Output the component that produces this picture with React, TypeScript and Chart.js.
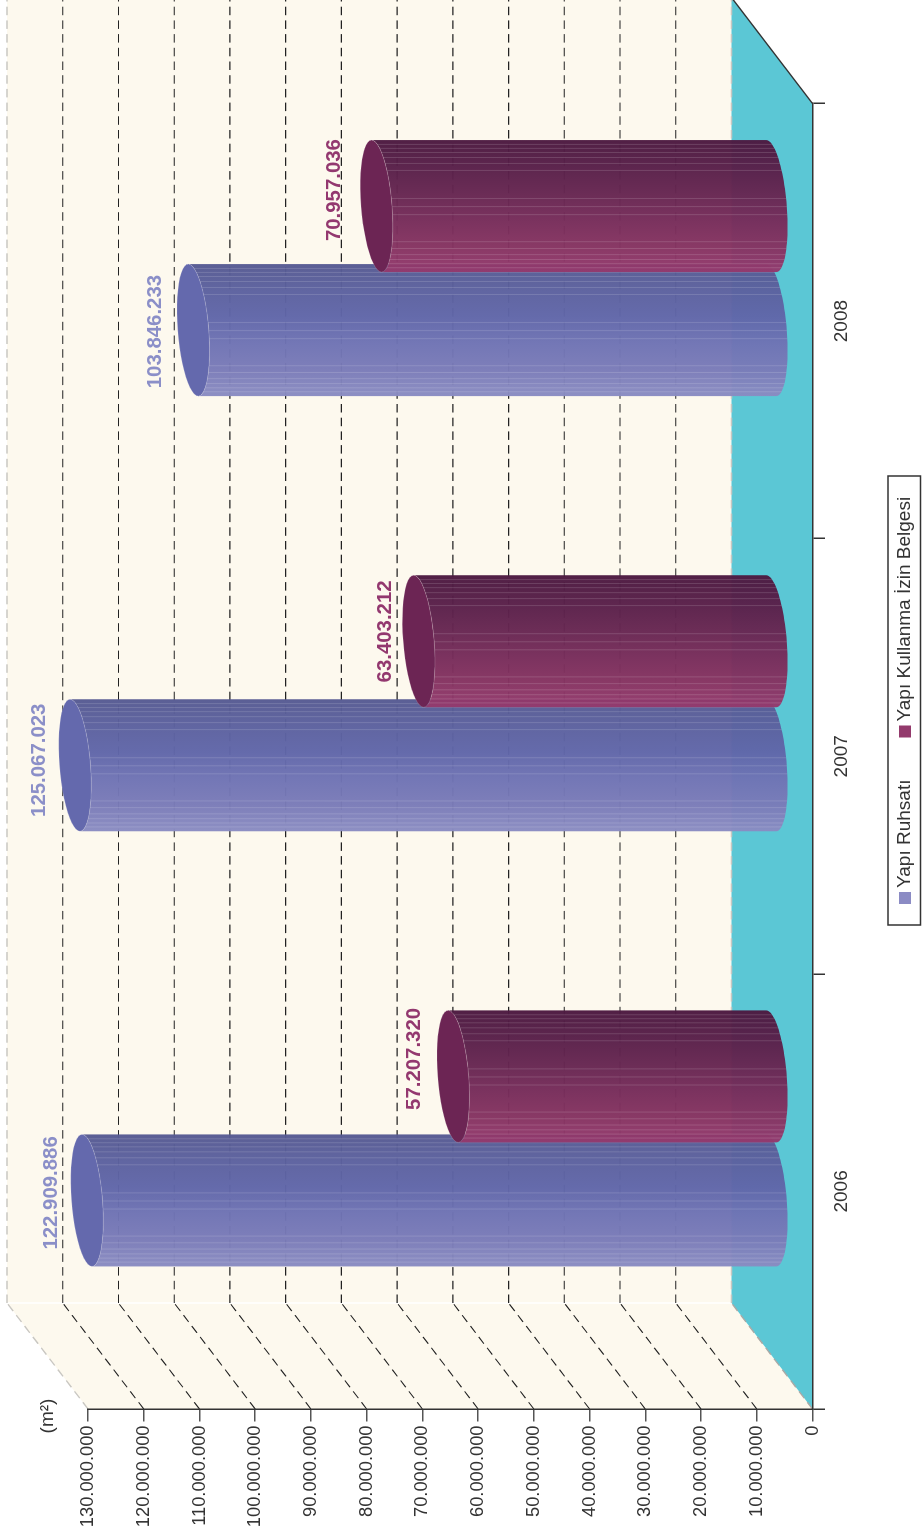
import React, { useEffect, useRef } from "react";
import { Chart, registerables } from "chart.js";

Chart.register(...registerables);

const categories = ["2006", "2007", "2008"];
const seriesNames = ["Yapı Ruhsatı", "Yapı Kullanma İzin Belgesi"];
const ruhsat = [122909886, 125067023, 103846233];
const kullanma = [57207320, 63403212, 70957036];
const unitLabel = "(m²)";

const FONT = '"Liberation Sans", Arial, sans-serif';
const INK = "#333333";
const CREAM = "#fdf9ee";
const FLOOR = "#5bc7d5";
const EDGE = "#c9c7c2";

const DEPTH_U = 106;
const DEPTH_V = -81;

const blueRamp = ["#8a8cc2", "#7a7bb8", "#6f73b4", "#6066a9", "#5c619f", "#565a92"];
const plumRamp = ["#943a6e", "#853361", "#762c5a", "#662651", "#581f49", "#4c1940"];
const ramps = [blueRamp, plumRamp];
const capFill = ["#6469ad", "#6c2554"];
const labelInk = ["#8b8fc8", "#93386f"];
const stripeStops = [0.033, 0.063, 0.095, 0.132, 0.179, 0.23, 0.435, 0.496, 0.557, 0.77, 0.823, 0.868, 0.906, 0.937, 0.967];

const labelShiftU = [
  [7.5, 5, -1.5],
  [17.5, 9.8, 16],
];
const labelShiftV = [
  [-36, -36, -38],
  [-39, -33.6, -42.5],
];

function dashed(ctx: CanvasRenderingContext2D, x1: number, y1: number, x2: number, y2: number, color: string, width: number) {
  ctx.save();
  ctx.strokeStyle = color;
  ctx.lineWidth = width;
  ctx.setLineDash([8.5, 5.2]);
  ctx.beginPath();
  ctx.moveTo(x1, y1);
  ctx.lineTo(x2, y2);
  ctx.stroke();
  ctx.restore();
}

function poly(ctx: CanvasRenderingContext2D, pts: number[][]) {
  ctx.beginPath();
  pts.forEach((p, i) => (i ? ctx.lineTo(p[0], p[1]) : ctx.moveTo(p[0], p[1])));
  ctx.closePath();
}

function drawCylinders(chart: any, si: number) {
  const { ctx } = chart;
  const ramp = ramps[si];
  chart.getDatasetMeta(si).data.forEach((bar: any, i: number) => {
    const cu = bar.x + DEPTH_U / 2;
    const top = bar.y + DEPTH_V / 2;
    const base = bar.base + DEPTH_V / 2;
    const half = bar.width / 2;
    const shear = half * 0.076;
    const bulge = half * 0.235;
    const ell = (cv: number, from: number, to: number) => {
      const out: number[][] = [];
      for (let k = 0; k <= 48; k++) {
        const th = from + ((to - from) * k) / 48;
        out.push([cu + half * Math.cos(th), cv - shear * Math.cos(th) + bulge * Math.sin(th)]);
      }
      return out;
    };
    ctx.save();
    ctx.globalAlpha = 0.97;
    const grad = ctx.createLinearGradient(cu - half, 0, cu + half, 0);
    ramp.forEach((c: string, k: number) => grad.addColorStop(k / (ramp.length - 1), c));
    const body = [...ell(base, 0, Math.PI), ...ell(top, Math.PI, 0)];
    poly(ctx, body);
    ctx.fillStyle = grad;
    ctx.fill();
    ctx.save();
    poly(ctx, body);
    ctx.clip();
    ctx.strokeStyle = "rgba(255,255,255,0.15)";
    ctx.lineWidth = 1;
    stripeStops.forEach((f) => {
      const u = cu - half + 2 * half * f;
      ctx.beginPath();
      ctx.moveTo(u, top - bulge * 2);
      ctx.lineTo(u, base + bulge * 2);
      ctx.stroke();
    });
    ctx.restore();
    ctx.globalAlpha = 1;
    poly(ctx, ell(top, 0, Math.PI * 2));
    ctx.fillStyle = capFill[si];
    ctx.fill();
    ctx.strokeStyle = "rgba(255,255,255,0.16)";
    ctx.lineWidth = 1;
    ctx.stroke();
    ctx.restore();

    const value = chart.data.datasets[si].data[i];
    ctx.save();
    ctx.font = `bold 20.4px ${FONT}`;
    ctx.fillStyle = labelInk[si];
    ctx.textAlign = "center";
    ctx.textBaseline = "middle";
    ctx.fillText(formatDots(value), cu + labelShiftU[si][i], top + labelShiftV[si][i]);
    ctx.restore();
  });
}

const stage = {
  id: "stage",
  beforeDraw(chart: any) {
    const { ctx, chartArea: a, scales } = chart;
    const l = a.left, r = a.right, t = a.top, b = a.bottom;
    const lb = l + DEPTH_U, rb = r + DEPTH_U, tb = t + DEPTH_V, bb = b + DEPTH_V;
    ctx.save();
    ctx.fillStyle = CREAM;
    ctx.fillRect(lb, tb, rb - lb, bb - tb);
    poly(ctx, [[l, t], [lb, tb], [lb, bb], [l, b]]);
    ctx.fill();
    ctx.fillStyle = FLOOR;
    poly(ctx, [[l, b], [lb, bb], [rb, bb], [r, b]]);
    ctx.fill();
    ctx.strokeStyle = "#ffffff";
    ctx.lineWidth = 1.5;
    ctx.beginPath();
    ctx.moveTo(lb, tb - 1);
    ctx.lineTo(lb, bb);
    ctx.stroke();

    scales.y.ticks.forEach((tick: any) => {
      const y = scales.y.getPixelForValue(tick.value);
      const outer = tick.value === scales.y.max || tick.value === 0;
      if (outer) {
        dashed(ctx, lb, y + DEPTH_V, rb, y + DEPTH_V, EDGE, 1.6);
        dashed(ctx, l, y, lb, y + DEPTH_V, tick.value === 0 ? "#a9a9a6" : EDGE, 1.4);
      } else {
        dashed(ctx, lb, y + DEPTH_V, rb, y + DEPTH_V, "#222222", 1.1);
        dashed(ctx, l, y, lb, y + DEPTH_V, "#222222", 1.1);
      }
    });
    ctx.strokeStyle = INK;
    ctx.lineWidth = 1.5;
    ctx.beginPath();
    ctx.moveTo(r, b);
    ctx.lineTo(rb, bb);
    ctx.stroke();
    ctx.restore();
  },
  beforeDatasetsDraw(chart: any) {
    chart.data.datasets.forEach((_: any, si: number) => drawCylinders(chart, si));
  },
  beforeDatasetDraw() {
    return false;
  },
  afterDraw(chart: any) {
    const { ctx, scales } = chart;
    ctx.save();
    ctx.font = `19px ${FONT}`;
    ctx.fillStyle = INK;
    ctx.textBaseline = "middle";
    ctx.textAlign = "center";
    ctx.fillText(unitLabel, scales.x.left - 7, 48);

    // legend
    ctx.strokeStyle = INK;
    ctx.lineWidth = 1.5;
    ctx.strokeRect(612, 888, 449, 32.5);
    ctx.textAlign = "left";
    const squareU = [633, 799.5];
    chart.data.datasets.forEach((ds: any, k: number) => {
      ctx.fillStyle = ds.backgroundColor;
      ctx.fillRect(squareU[k], 899, 12, 12);
      ctx.fillStyle = INK;
      ctx.fillText(ds.label, squareU[k] + 16, 905);
    });
    ctx.restore();
  },
};

function formatDots(v: number) {
  return String(v).replace(/\B(?=(\d{3})+$)/g, ".");
}

function noPad(scale: any) {
  scale.paddingTop = 0;
  scale.paddingBottom = 0;
  scale.paddingLeft = 0;
  scale.paddingRight = 0;
}

export default function App() {
  const ref = useRef<HTMLCanvasElement>(null);
  useEffect(() => {
    const chart = new Chart(ref.current as HTMLCanvasElement, {
      type: "bar",
      plugins: [stage],
      data: {
        labels: categories,
        datasets: [
          { label: seriesNames[0], data: ruhsat, backgroundColor: "#8b8bc4", categoryPercentage: 0.57, barPercentage: 1.0645 },
          { label: seriesNames[1], data: kullanma, backgroundColor: "#933a6c", categoryPercentage: 0.57, barPercentage: 1.0645 },
        ] as any,
      },
      options: {
        animation: false,
        responsive: false,
        devicePixelRatio: 1,
        layout: { padding: { top: 88, right: 103.5, bottom: 0, left: 0 } },
        plugins: { legend: { display: false }, tooltip: { enabled: false } },
        scales: {
          x: {
            afterFit(s: any) {
              s.height = 109.5;
              noPad(s);
            },
            grid: { offset: true, drawOnChartArea: false, tickLength: 12.5, color: INK, lineWidth: 1.5 },
            border: { display: true, color: INK, width: 1.5 },
            ticks: { font: { family: FONT, size: 19 }, color: INK, padding: 5, maxRotation: 0, autoSkip: false },
          },
          y: {
            min: 0,
            max: 130000000,
            afterFit(s: any) {
              s.width = 128;
              noPad(s);
            },
            grid: { drawOnChartArea: false, tickLength: 12.5, color: "#555555", lineWidth: 1.5 },
            border: { display: true, color: INK, width: 1.5 },
            ticks: {
              stepSize: 10000000,
              font: { family: FONT, size: 18.3 },
              color: INK,
              padding: 4,
              callback: (v: any) => formatDots(Number(v)),
            },
          },
        },
      } as any,
    });
    return () => chart.destroy();
  }, []);
  return (
    <div style={{ position: "absolute", left: 0, top: 0, width: 922, height: 1537, overflow: "hidden", background: "#fff" }}>
      <div style={{ position: "absolute", left: 0, top: 1537, width: 1537, height: 922, transformOrigin: "0 0", transform: "rotate(-90deg)" }}>
        <canvas ref={ref} width={1537} height={922} />
      </div>
    </div>
  );
}
